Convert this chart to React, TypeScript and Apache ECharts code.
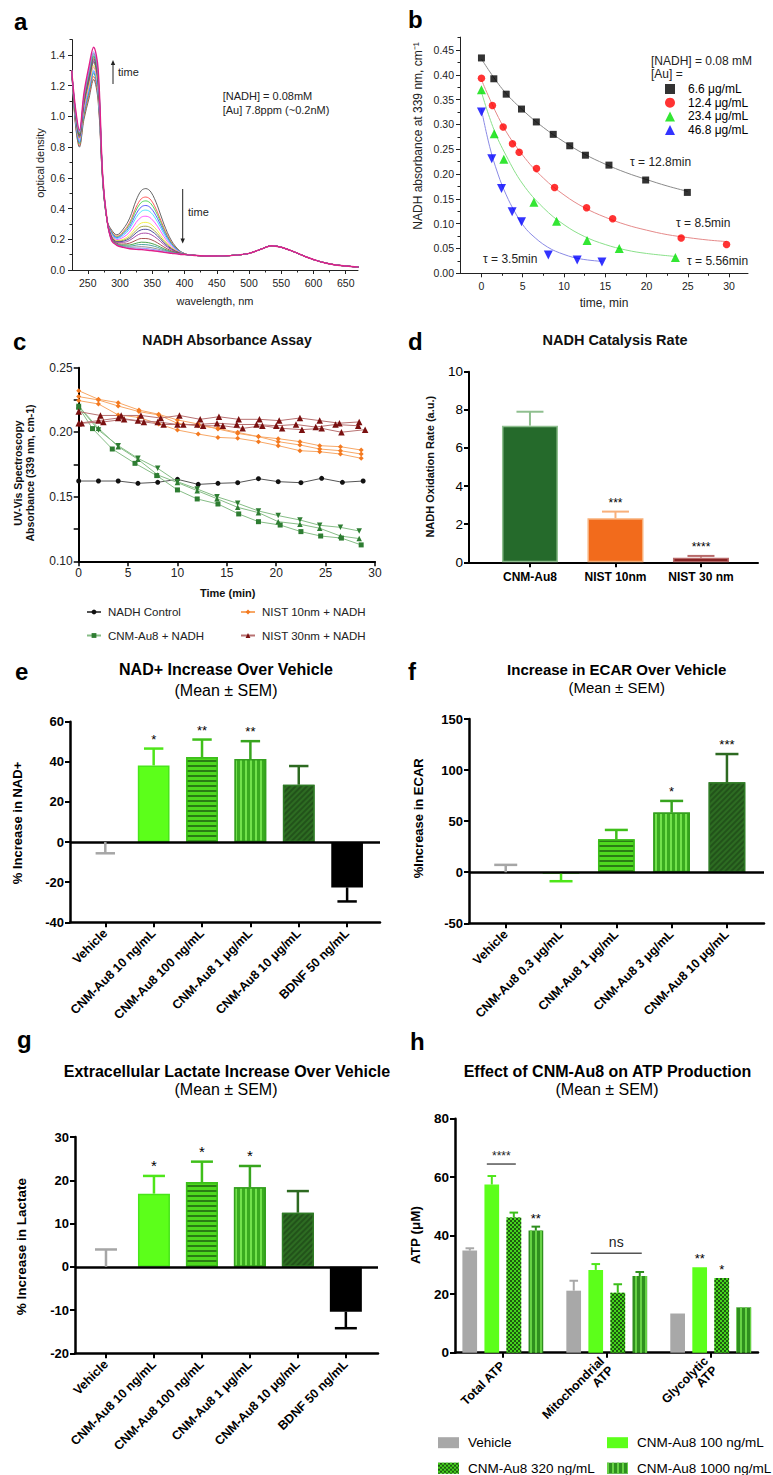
import React, { useEffect, useRef } from 'react';
import * as echarts from 'echarts';

const FONT = '"Liberation Sans", Arial, Helvetica, sans-serif';

// ---------------- Panel a : UV-Vis spectra ----------------
const aWaveFront = [225, 231, 237, 244, 252, 259, 266, 273, 280, 287];
const aWaveMid = [295, 305, 315, 325, 333, 340, 348, 358, 368, 380, 392, 402];
const aWaveTail = [410, 420, 440, 460, 480, 500, 520, 535, 550, 570, 590, 610, 630, 650, 670];
const aTail = [0.097, 0.094, 0.091, 0.092, 0.097, 0.108, 0.138, 0.158, 0.148, 0.118, 0.083, 0.055, 0.036, 0.026, 0.019];
const aFront = [
  [1.30, 0.94, 0.80, 0.98, 1.12, 1.24, 1.10, 0.58, 0.32, 0.26],
  [1.30, 0.95, 0.81, 1.00, 1.14, 1.26, 1.12, 0.58, 0.32, 0.25],
  [1.30, 0.96, 0.82, 1.01, 1.16, 1.28, 1.14, 0.59, 0.32, 0.245],
  [1.30, 0.97, 0.83, 1.03, 1.17, 1.29, 1.15, 0.59, 0.32, 0.24],
  [1.30, 0.98, 0.84, 1.04, 1.18, 1.30, 1.16, 0.59, 0.32, 0.235],
  [1.30, 0.99, 0.85, 1.05, 1.20, 1.32, 1.18, 0.60, 0.32, 0.228],
  [1.30, 1.00, 0.86, 1.07, 1.21, 1.33, 1.19, 0.60, 0.32, 0.221],
  [1.30, 1.00, 0.86, 1.07, 1.23, 1.35, 1.21, 0.60, 0.32, 0.217],
  [1.30, 1.01, 0.87, 1.09, 1.24, 1.36, 1.22, 0.60, 0.32, 0.214],
  [1.30, 1.01, 0.87, 1.09, 1.25, 1.37, 1.23, 0.61, 0.32, 0.21],
  [1.30, 1.02, 0.88, 1.10, 1.26, 1.38, 1.24, 0.61, 0.32, 0.204],
  [1.30, 1.02, 0.88, 1.11, 1.27, 1.39, 1.25, 0.61, 0.32, 0.199],
  [1.30, 1.03, 0.89, 1.12, 1.28, 1.40, 1.26, 0.61, 0.32, 0.197],
  [1.30, 1.03, 0.89, 1.12, 1.29, 1.41, 1.27, 0.61, 0.32, 0.194],
  [1.30, 1.04, 0.90, 1.13, 1.30, 1.42, 1.28, 0.62, 0.32, 0.193],
  [1.30, 1.05, 0.91, 1.15, 1.33, 1.45, 1.31, 0.62, 0.32, 0.191],
];
const aMid = [
  [0.229, 0.267, 0.338, 0.454, 0.517, 0.53, 0.507, 0.418, 0.299, 0.189, 0.127, 0.104],
  [0.22, 0.25, 0.31, 0.41, 0.464, 0.475, 0.455, 0.377, 0.274, 0.178, 0.124, 0.1035],
  [0.215, 0.243, 0.298, 0.39, 0.44, 0.45, 0.431, 0.359, 0.263, 0.173, 0.123, 0.103],
  [0.21, 0.234, 0.283, 0.366, 0.411, 0.42, 0.402, 0.336, 0.249, 0.167, 0.121, 0.103],
  [0.205, 0.225, 0.268, 0.342, 0.382, 0.39, 0.374, 0.314, 0.235, 0.161, 0.119, 0.103],
  [0.198, 0.213, 0.248, 0.31, 0.344, 0.35, 0.336, 0.285, 0.217, 0.153, 0.117, 0.102],
  [0.191, 0.2, 0.228, 0.278, 0.306, 0.31, 0.298, 0.255, 0.198, 0.145, 0.114, 0.102],
  [0.187, 0.193, 0.215, 0.258, 0.282, 0.285, 0.274, 0.236, 0.187, 0.14, 0.113, 0.102],
  [0.184, 0.187, 0.205, 0.242, 0.262, 0.265, 0.255, 0.222, 0.177, 0.136, 0.111, 0.101],
  [0.18, 0.18, 0.193, 0.222, 0.238, 0.24, 0.231, 0.203, 0.166, 0.131, 0.11, 0.101],
  [0.174, 0.169, 0.175, 0.194, 0.205, 0.205, 0.198, 0.177, 0.15, 0.124, 0.108, 0.101],
  [0.169, 0.162, 0.163, 0.174, 0.181, 0.18, 0.174, 0.159, 0.138, 0.119, 0.106, 0.1],
  [0.167, 0.157, 0.155, 0.162, 0.166, 0.165, 0.16, 0.148, 0.131, 0.116, 0.105, 0.1],
  [0.164, 0.153, 0.148, 0.15, 0.152, 0.15, 0.146, 0.137, 0.125, 0.113, 0.105, 0.1],
  [0.163, 0.15, 0.143, 0.142, 0.142, 0.14, 0.136, 0.129, 0.12, 0.111, 0.104, 0.1],
  [0.161, 0.147, 0.138, 0.134, 0.133, 0.13, 0.127, 0.122, 0.115, 0.109, 0.103, 0.1],
];
const aColors = ['#555555', '#ff4a4a', '#3fd24a', '#4a4aff', '#3ee0ff', '#ff45ff', '#f2f03a', '#9c9c3a', '#3a3a90', '#a03aa0', '#a04040', '#3a9a3a', '#3a9a9a', '#8a8a8a', '#8a8aff', '#e0208a'];
const aXTicks = [250, 300, 350, 400, 450, 500, 550, 600, 650];
const aXMinor = [275, 325, 375, 425, 475, 525, 575, 625];
const aYTicks = [0, 0.2, 0.4, 0.6, 0.8, 1.0, 1.2, 1.4];
const aYMinor = [0.1, 0.3, 0.5, 0.7, 0.9, 1.1, 1.3, 1.5];

// ---------------- Panel b : NADH decay ----------------
const bNames = ['6.6 μg/mL', '12.4 μg/mL', '23.4 μg/mL', '46.8 μg/mL'];
const bX = [
  [0, 1.5, 3, 4.85, 6.65, 8.7, 10.7, 12.6, 15.45, 19.9, 24.95],
  [0, 1.33, 2.63, 3.76, 4.57, 6.67, 8.86, 12.74, 15.9, 24.2, 29.7],
  [0, 1.54, 2.71, 6.35, 9.1, 12.8, 16.7, 23.5],
  [0, 1.25, 2.43, 3.72, 4.85, 8.1, 11.6, 14.6],
];
const bY = [
  [0.434, 0.392, 0.361, 0.331, 0.305, 0.28, 0.257, 0.238, 0.218, 0.188, 0.163],
  [0.393, 0.338, 0.295, 0.261, 0.244, 0.211, 0.173, 0.132, 0.11, 0.071, 0.058],
  [0.37, 0.281, 0.23, 0.143, 0.105, 0.066, 0.05, 0.032],
  [0.325, 0.231, 0.171, 0.124, 0.104, 0.037, 0.027, 0.023],
];
const bFitX = [
  [0, 2.5, 5, 7.5, 10, 12.5, 15, 17.5, 20, 22.5, 25],
  [0, 2.5, 5, 7.5, 10, 12.5, 15, 17.5, 20, 22.5, 25, 27.5, 29.7],
  [0, 1.5, 3, 5, 7.5, 10, 12.5, 15, 17.5, 20, 23.5],
  [0, 1, 2, 3, 4, 5, 6, 8, 10, 12, 14.6],
];
const bFitY = [
  [0.432, 0.372, 0.329, 0.294, 0.265, 0.24, 0.22, 0.203, 0.189, 0.176, 0.165],
  [0.39, 0.3, 0.238, 0.192, 0.158, 0.132, 0.113, 0.098, 0.087, 0.078, 0.072, 0.067, 0.064],
  [0.365, 0.29, 0.237, 0.18, 0.132, 0.098, 0.074, 0.058, 0.047, 0.04, 0.034],
  [0.33, 0.255, 0.2, 0.158, 0.125, 0.098, 0.079, 0.053, 0.038, 0.029, 0.024],
];
const bTau = ['τ = 12.8min', 'τ = 8.5min', 'τ = 5.56min', 'τ = 3.5min'];
const bXTicks = [0, 5, 10, 15, 20, 25, 30];
const bXMinor = [2.5, 7.5, 12.5, 17.5, 22.5, 27.5];
const bYTicks = [0, 0.05, 0.1, 0.15, 0.2, 0.25, 0.3, 0.35, 0.4, 0.45];
const bYMinor = [0.025, 0.075, 0.125, 0.175, 0.225, 0.275, 0.325, 0.375, 0.425, 0.475];

// ---------------- Panel c : NADH absorbance assay ----------------
const cCtrlT = [0, 2, 4, 6, 8, 10, 12.1, 14.1, 16.1, 18.2, 20.2, 22.5, 24.6, 26.7, 28.8];
const cCtrlV = [0.1622, 0.1622, 0.1622, 0.1604, 0.1612, 0.1635, 0.1596, 0.1604, 0.1609, 0.164, 0.1617, 0.1609, 0.1643, 0.1612, 0.1622];
const cCnmT = [
  [0, 1.4, 3.4, 5.7, 7.9, 10, 12, 14.1, 16.2, 18.2, 20.4, 22.5, 24.5, 26.6, 28.6],
  [0, 2, 4, 6, 8, 10, 12, 14, 16.1, 18.2, 20.2, 22.4, 24.4, 26.5, 28.4],
  [0, 2, 4, 6, 8, 10, 12, 14, 16.1, 18.2, 20.2, 22.4, 24.4, 26.5, 28.4],
];
const cCnmV = [
  [0.2193, 0.2028, 0.187, 0.1759, 0.1664, 0.1553, 0.1483, 0.1444, 0.1367, 0.1307, 0.1281, 0.123, 0.1196, 0.118, 0.1127],
  [0.2203, 0.203, 0.1888, 0.179, 0.1669, 0.161, 0.1547, 0.1485, 0.1418, 0.1377, 0.1307, 0.1287, 0.1256, 0.1196, 0.1176],
  [0.22, 0.2017, 0.1896, 0.1798, 0.172, 0.1617, 0.156, 0.15, 0.1449, 0.139, 0.1354, 0.132, 0.1279, 0.1263, 0.1235],
];
const cN10T = [0, 2, 4, 6.1, 8.1, 10, 12.1, 14.1, 16.1, 18.2, 20.2, 22.4, 24.4, 26.5, 28.6];
const cN10V = [
  [0.2322, 0.2255, 0.2229, 0.2172, 0.2139, 0.2095, 0.2064, 0.2025, 0.1991, 0.1966, 0.195, 0.1927, 0.1896, 0.1888, 0.1862],
  [0.2276, 0.225, 0.2203, 0.216, 0.2134, 0.2069, 0.2051, 0.203, 0.1999, 0.1966, 0.1927, 0.1901, 0.187, 0.1857, 0.1831],
  [0.2245, 0.2219, 0.2134, 0.2115, 0.2064, 0.2017, 0.1986, 0.196, 0.1953, 0.1927, 0.1896, 0.1857, 0.1849, 0.1831, 0.1798],
];
const cN30T = [
  [0, 2.2, 4.3, 6.3, 8.3, 10.2, 12.3, 14.2, 16.2, 18.3, 20.3, 22.4, 24.4, 26.4, 28.4],
  [0, 2, 4, 6, 8, 10, 12, 14, 16, 18, 20, 22, 24, 26, 28.3],
  [0.3, 2.5, 4.6, 6.6, 8.6, 10.6, 12.6, 14.6, 16.6, 18.6, 20.6, 22.6, 24.6, 26.6, 29],
];
const cN30V = [
  [0.216, 0.213, 0.213, 0.213, 0.211, 0.213, 0.21, 0.212, 0.21, 0.21, 0.209, 0.211, 0.209, 0.207, 0.208],
  [0.207, 0.209, 0.211, 0.209, 0.208, 0.206, 0.206, 0.207, 0.206, 0.206, 0.205, 0.206, 0.204, 0.206, 0.205],
  [0.207, 0.208, 0.21, 0.208, 0.206, 0.206, 0.205, 0.205, 0.203, 0.205, 0.203, 0.202, 0.203, 0.2, 0.202],
];

// ---------------- Panel d : catalysis rate ----------------
const dCats = ['CNM-Au8', 'NIST 10nm', 'NIST 30 nm'];
const dMeans = [7.17, 2.31, 0.245];
const dErr = [0.73, 0.35, 0.09];
const dStars = ['', '***', '****'];

// ---------------- Panel e : NAD+ ----------------
const eCats = ['Vehicle', 'CNM-Au8 10 ng/mL', 'CNM-Au8 100 ng/mL', 'CNM-Au8 1 μg/mL', 'CNM-Au8 10 μg/mL', 'BDNF 50 ng/mL'];
const eMeans = [0, 38.2, 42.4, 41.4, 28.6, -22.6];
const eErr = [-5.6, 8.4, 8.7, 8.9, 9.3, -7.0];
const eStars = ['', '*', '**', '**', '', ''];

// ---------------- Panel f : ECAR ----------------
const fCats = ['Vehicle', 'CNM-Au8 0.3 μg/mL', 'CNM-Au8 1 μg/mL', 'CNM-Au8 3 μg/mL', 'CNM-Au8 10 μg/mL'];
const fMeans = [0, -1.5, 32.3, 58.4, 88];
const fErr = [7.2, -7.3, 9.1, 11.4, 27.7];
const fStars = ['', '', '', '*', '***'];

// ---------------- Panel g : lactate ----------------
const gCats = ['Vehicle', 'CNM-Au8 10 ng/mL', 'CNM-Au8 100 ng/mL', 'CNM-Au8 1 μg/mL', 'CNM-Au8 10 μg/mL', 'BDNF 50 ng/mL'];
const gMeans = [0, 16.9, 19.6, 18.4, 12.5, -10.4];
const gErr = [4.0, 4.1, 4.7, 4.9, 5.0, -3.8];
const gStars = ['', '*', '*', '*', '', ''];

// ---------------- Panel h : ATP ----------------
const hCats = ['Total ATP', 'Mitochondrial\nATP', 'Glycolytic\nATP'];
const hNames = ['Vehicle', 'CNM-Au8 100 ng/mL', 'CNM-Au8 320 ng/mL', 'CNM-Au8 1000 ng/mL'];
const hMeans = [
  [34.9, 21.2, 13.4],
  [57.5, 28.3, 29.2],
  [46.2, 20.5, 25.5],
  [41.8, 26.2, 15.5],
];
const hErr = [
  [0.8, 3.4, 0],
  [2.9, 2.0, 0],
  [1.7, 2.9, 0.1],
  [1.3, 1.4, 0],
];
const hStars = [
  ['', '', ''],
  ['', '', '**'],
  ['', '', '*'],
  ['**', '', ''],
];
const hBrackets = [
  { group: 0, from: 1, to: 2, level: 64.5, label: '****' },
  { group: 1, from: 1, to: 3, level: 34, label: 'ns' },
];

// ---------------- helpers ----------------
const txt = (text: string, x: number, y: number, size: number, opts: any = {}) => {
  const align = opts.align || 'center';
  const valign = opts.valign || 'middle';
  return {
    type: 'text',
    x,
    y,
    rotation: opts.rot || 0,
    silent: true,
    z: 100,
    style: {
      text,
      fill: opts.color || '#000',
      font: `${opts.weight || 'normal'} ${size}px ${FONT}`,
      textAlign: align,
      align,
      textVerticalAlign: valign,
      verticalAlign: valign,
      lineHeight: opts.lineHeight,
    },
  };
};

const decalH = (color: string) => ({ symbol: 'rect', symbolSize: 1, color, dashArrayX: [1, 0], dashArrayY: [2, 2.2], rotation: 0 });
const decalV = (color: string) => ({ symbol: 'rect', symbolSize: 1, color, dashArrayX: [2, 2.2], dashArrayY: [4, 0], rotation: 0 });
const decalD = (color: string) => ({ symbol: 'rect', symbolSize: 1, color, dashArrayX: [1, 0], dashArrayY: [1.3, 1.7], rotation: -Math.PI / 4 });
const decalC = (color: string) => ({ symbol: 'rect', symbolSize: 1, color, dashArrayX: [[1.5, 1.5], [0, 1.5, 1.5, 0]], dashArrayY: [1.5, 0], rotation: 0 });

function errSeries(xi: number, yi: number, means: number[], errs: number[], colors: string[], stars: string[] | null, capHalf: number, lw: number, offsetPx = 0, starSize = 13, starGap = 3) {
  return {
    type: 'custom',
    xAxisIndex: xi,
    yAxisIndex: yi,
    z: 5,
    silent: true,
    data: means.map((m, i) => [i, m, errs[i]]),
    encode: { x: 0, y: 1 },
    renderItem: (params: any, api: any) => {
      const i = params.dataIndex;
      const x = api.value(0);
      const y = api.value(1);
      const e = api.value(2);
      const b = api.coord([x, y]);
      const t = api.coord([x, y + e]);
      const px = b[0] + offsetPx;
      const children: any[] = [];
      if (Math.abs(t[1] - b[1]) > 0.5) {
        children.push({ type: 'line', shape: { x1: px, y1: b[1], x2: px, y2: t[1] }, style: { stroke: colors[i], lineWidth: lw } });
        children.push({ type: 'line', shape: { x1: px - capHalf, y1: t[1], x2: px + capHalf, y2: t[1] }, style: { stroke: colors[i], lineWidth: lw } });
      }
      if (stars && stars[i]) {
        const top = Math.min(t[1], b[1]);
        children.push({
          type: 'text',
          x: px,
          y: top - starGap,
          style: { text: stars[i], fill: '#000', font: `${starSize}px ${FONT}`, textAlign: 'center', align: 'center', textVerticalAlign: 'bottom', verticalAlign: 'bottom' },
        });
      }
      return { type: 'group', children };
    },
  };
}

const zeroLine = {
  silent: true,
  symbol: ['none', 'none'],
  label: { show: false },
  lineStyle: { color: '#000', width: 2.5, type: 'solid' },
  data: [{ yAxis: 0 }],
};

function barXAxis(gi: number, min: number, max: number, cats: string[], rotate: number, fontSize: number, margin: number) {
  const vals = cats.map((_, i) => i);
  return {
    type: 'value',
    gridIndex: gi,
    min,
    max,
    position: 'bottom',
    axisLine: { show: true, onZero: false, lineStyle: { color: '#000', width: 2.5 } },
    axisTick: { show: true, customValues: vals, length: 5, lineStyle: { color: '#000', width: 2 } },
    axisLabel: {
      customValues: vals,
      formatter: (v: number) => cats[Math.round(v)] ?? '',
      rotate,
      fontSize,
      fontWeight: 'bold',
      color: '#000',
      margin,
      fontFamily: FONT,
    },
    splitLine: { show: false },
  };
}

function barYAxis(gi: number, min: number, max: number, interval: number, fontSize: number, weight: string) {
  return {
    type: 'value',
    gridIndex: gi,
    min,
    max,
    interval,
    position: 'left',
    axisLine: { show: true, onZero: false, lineStyle: { color: '#000', width: 2.5 } },
    axisTick: { show: true, length: 5, lineStyle: { color: '#000', width: 2 } },
    axisLabel: { fontSize, fontWeight: weight, color: '#000', margin: 6, fontFamily: FONT },
    splitLine: { show: false },
  };
}

function buildOption() {
  const grid = [
    { left: 72, top: 39.6, width: 286, height: 230.4 },
    { left: 460, top: 37.1, width: 288, height: 236.2 },
    { left: 78.7, top: 367.7, width: 296.3, height: 193.6 },
    { left: 469, top: 371.7, width: 289, height: 190.6 },
    { left: 70, top: 721.7, width: 310, height: 200.6 },
    { left: 469, top: 719, width: 295, height: 204.3 },
    { left: 75, top: 1137, width: 303, height: 216.3 },
    { left: 455, top: 1118.7, width: 303, height: 234 },
  ];

  const thinLine = { color: '#222', width: 1 };
  const xAxis: any[] = [
    {
      type: 'value', gridIndex: 0, min: 225.5, max: 669, position: 'bottom',
      axisLine: { onZero: false, lineStyle: thinLine },
      axisTick: { customValues: aXTicks, length: 4, lineStyle: thinLine },
      axisLabel: { customValues: aXTicks, fontSize: 10.5, color: '#222', margin: 7 },
      splitLine: { show: false },
    },
    {
      type: 'value', gridIndex: 0, min: 225.5, max: 669, position: 'bottom',
      axisLine: { show: false, onZero: false },
      axisTick: { customValues: aXMinor, length: 2.5, lineStyle: thinLine },
      axisLabel: { show: false }, splitLine: { show: false },
    },
    {
      type: 'value', gridIndex: 1, min: -2.6, max: 32.3, position: 'bottom',
      axisLine: { onZero: false, lineStyle: thinLine },
      axisTick: { customValues: bXTicks, length: 4, lineStyle: thinLine },
      axisLabel: { customValues: bXTicks, fontSize: 10.5, color: '#222', margin: 7 },
      splitLine: { show: false },
    },
    {
      type: 'value', gridIndex: 1, min: -2.6, max: 32.3, position: 'bottom',
      axisLine: { show: false, onZero: false },
      axisTick: { customValues: bXMinor, length: 2.5, lineStyle: thinLine },
      axisLabel: { show: false }, splitLine: { show: false },
    },
    {
      type: 'value', gridIndex: 2, min: 0, max: 30, interval: 5, position: 'bottom',
      axisLine: { onZero: false, lineStyle: { color: '#000', width: 2 } },
      axisTick: { length: 5, lineStyle: { color: '#000', width: 1.5 } },
      axisLabel: { fontSize: 12, color: '#222', margin: 6 },
      splitLine: { show: false },
    },
    barXAxis(3, -0.713, 2.667, dCats, 0, 12, 9),
    barXAxis(4, -0.73, 5.68, eCats, 45, 12.5, 9),
    barXAxis(5, -0.664, 4.67, fCats, 45, 12.5, 9),
    barXAxis(6, -0.646, 5.67, gCats, 45, 12.5, 9),
    barXAxis(7, -0.46, 2.455, hCats, 45, 12.5, 11),
  ];
  xAxis[5].axisLine.lineStyle.width = 2;

  const yAxis: any[] = [
    {
      type: 'value', gridIndex: 0, min: 0, max: 1.5, position: 'left',
      axisLine: { onZero: false, lineStyle: thinLine },
      axisTick: { customValues: aYTicks, length: 4, lineStyle: thinLine },
      axisLabel: { customValues: aYTicks, formatter: (v: number) => v.toFixed(1), fontSize: 10.5, color: '#222', margin: 7 },
      splitLine: { show: false },
    },
    {
      type: 'value', gridIndex: 0, min: 0, max: 1.5, position: 'left',
      axisLine: { show: false, onZero: false },
      axisTick: { customValues: aYMinor, length: 2.5, lineStyle: thinLine },
      axisLabel: { show: false }, splitLine: { show: false },
    },
    {
      type: 'value', gridIndex: 1, min: 0, max: 0.476, position: 'left',
      axisLine: { onZero: false, lineStyle: thinLine },
      axisTick: { customValues: bYTicks, length: 4, lineStyle: thinLine },
      axisLabel: { customValues: bYTicks, formatter: (v: number) => v.toFixed(2), fontSize: 10.5, color: '#222', margin: 6 },
      splitLine: { show: false },
    },
    {
      type: 'value', gridIndex: 1, min: 0, max: 0.476, position: 'left',
      axisLine: { show: false, onZero: false },
      axisTick: { customValues: bYMinor, length: 2.5, lineStyle: thinLine },
      axisLabel: { show: false }, splitLine: { show: false },
    },
    {
      type: 'value', gridIndex: 2, min: 0.1, max: 0.25, interval: 0.05, position: 'left',
      axisLine: { onZero: false, lineStyle: { color: '#000', width: 2 } },
      axisTick: { length: 5, lineStyle: { color: '#000', width: 1.5 } },
      minorTick: { show: true, splitNumber: 2, length: 5, lineStyle: { color: '#000', width: 1.5 } },
      axisLabel: { formatter: (v: number) => v.toFixed(2), fontSize: 12, color: '#222', margin: 6 },
      splitLine: { show: false },
    },
    barYAxis(3, 0, 10, 2, 13.5, 'normal'),
    barYAxis(4, -40, 60, 20, 13, 'bold'),
    barYAxis(5, -50, 150, 50, 13, 'bold'),
    barYAxis(6, -20, 30, 10, 13, 'bold'),
    barYAxis(7, 0, 80, 20, 13.5, 'bold'),
  ];
  yAxis[5].axisLine.lineStyle.width = 2;

  const series: any[] = [];

  // ---- a
  aFront.forEach((front, k) => {
    const data = [
      ...aWaveFront.map((w, i) => [w, front[i]]),
      ...aWaveMid.map((w, i) => [w, aMid[k][i]]),
      ...aWaveTail.map((w, i) => [w, aTail[i]]),
    ];
    series.push({
      type: 'line', name: 'spectrum ' + k, xAxisIndex: 0, yAxisIndex: 0, data, smooth: 0.35,
      symbol: 'none', silent: true, z: 2,
      lineStyle: { color: aColors[k], width: k === aFront.length - 1 ? 1.4 : 0.9 },
    });
  });

  // ---- b
  const bColors = ['#000000', '#ff0000', '#00e000', '#0000ff'];
  const bFitColors = ['#8a8a8a', '#e58a8a', '#8ae08a', '#8a8ae5'];
  const bSymbols = ['rect', 'circle', 'triangle', 'triangle'];
  const bSizes = [7, 7.5, 9, 9];
  const bRot = [0, 0, 0, 180];
  bFitX.forEach((xs, k) => {
    series.push({
      type: 'line', name: 'fit ' + k, xAxisIndex: 2, yAxisIndex: 2, smooth: 0.4, symbol: 'none', silent: true, z: 2,
      data: xs.map((x, i) => [x, bFitY[k][i]]),
      lineStyle: { color: bFitColors[k], width: 1 },
    });
  });
  bX.forEach((xs, k) => {
    series.push({
      type: 'scatter', name: bNames[k], xAxisIndex: 2, yAxisIndex: 2, z: 3,
      symbol: bSymbols[k], symbolSize: bSizes[k], symbolRotate: bRot[k],
      itemStyle: { color: bColors[k] },
      data: xs.map((x, i) => [x, bY[k][i]]),
    });
  });

  // ---- c
  const cLine = (name: string, ts: number[], vs: number[], symbol: string, size: number, color: string, lineColor: string, rot = 0) => ({
    type: 'line', name, xAxisIndex: 4, yAxisIndex: 4, z: 3,
    symbol, symbolSize: size, symbolRotate: rot, showSymbol: true,
    itemStyle: { color },
    lineStyle: { color: lineColor, width: 1 },
    data: ts.map((t, i) => [t, vs[i]]),
  });
  series.push(cLine('NADH Control', cCtrlT, cCtrlV, 'circle', 5, '#111111', '#555555'));
  const cnmSym = ['rect', 'triangle', 'triangle'];
  const cnmRot = [0, 0, 180];
  cCnmT.forEach((ts, k) => series.push(cLine('CNM-Au8 + NADH', ts, cCnmV[k], cnmSym[k], k === 0 ? 5 : 5.5, '#2e7d32', '#86bd86', cnmRot[k])));
  cN10V.forEach((vs) => series.push(cLine('NIST 10nm + NADH', cN10T, vs, 'diamond', 5, '#f47a20', '#f7a766')));
  cN30T.forEach((ts, k) => series.push(cLine('NIST 30nm + NADH', ts, cN30V[k], 'triangle', 6.5, '#7a1010', '#b87272')));

  // ---- d
  const dFill = ['#256a2b', '#f26b1c', '#7a0e0e'];
  const dBorder = ['#8fbf8f', '#f8b07a', '#b86a6a'];
  series.push({
    type: 'bar', name: 'd', xAxisIndex: 5, yAxisIndex: 5, barWidth: 56, z: 2,
    data: dMeans.map((v, i) => ({ value: [i, v], itemStyle: { color: dFill[i], borderColor: dBorder[i], borderWidth: 1.5 } })),
  });
  series.push(errSeries(5, 5, dMeans, dErr, dBorder, dStars, 13.5, 2, 0, 12, 3));

  // ---- e / f / g styles
  const grpStyles = [
    { color: '#a6a6a6', borderWidth: 0 },
    { color: '#5cff1a', borderColor: '#48e61a', borderWidth: 1.5 },
    { color: '#4fd81f', borderColor: '#3cbf1a', borderWidth: 1.5, decal: decalH('#2a7c14') },
    { color: '#3aab20', borderColor: '#34a01e', borderWidth: 1.5, decal: decalV('#72e24c') },
    { color: '#2d6c22', borderColor: '#2f7a25', borderWidth: 1.5, decal: decalD('#22531a') },
    { color: '#000000', borderWidth: 0 },
  ];
  const grpErr = ['#a6a6a6', '#4ee619', '#3fbf1a', '#37a41e', '#2d6a21', '#000000'];

  series.push({
    type: 'bar', name: 'e', xAxisIndex: 6, yAxisIndex: 6, barWidth: 31.7, z: 2,
    data: eMeans.map((v, i) => ({ value: [i, v], itemStyle: grpStyles[i] })),
    markLine: zeroLine,
  });
  series.push(errSeries(6, 6, eMeans, eErr, grpErr, eStars, 9.7, 2.5, 0, 13, 3));

  const fStyles = [grpStyles[0], grpStyles[1], grpStyles[2], grpStyles[3], grpStyles[4]];
  const fErrC = [grpErr[0], grpErr[1], grpErr[2], grpErr[3], grpErr[4]];
  series.push({
    type: 'bar', name: 'f', xAxisIndex: 7, yAxisIndex: 7, barWidth: 36.7, z: 2,
    data: fMeans.map((v, i) => ({ value: [i, v], itemStyle: fStyles[i] })),
    markLine: zeroLine,
  });
  series.push(errSeries(7, 7, fMeans, fErr, fErrC, fStars, 11.5, 2.5, 0, 13, 3));

  series.push({
    type: 'bar', name: 'g', xAxisIndex: 8, yAxisIndex: 8, barWidth: 32, z: 2,
    data: gMeans.map((v, i) => ({ value: [i, v], itemStyle: grpStyles[i] })),
    markLine: zeroLine,
  });
  series.push(errSeries(8, 8, gMeans, gErr, grpErr, gStars, 11, 2.5, 0, 15, 3));

  // ---- h
  const hStyles = [
    { color: '#a8a8a8' },
    { color: '#5cff1a' },
    { color: '#45d41c', decal: decalC('#1d5a10') },
    { color: '#2f8f1e', decal: decalV('#66d244') },
  ];
  const hErrC = ['#a8a8a8', '#4ee619', '#3cbf1a', '#2f8f1e'];
  const BAR_STEP = 22;
  hNames.forEach((name, s) => {
    series.push({
      type: 'bar', name, xAxisIndex: 9, yAxisIndex: 9, barWidth: 14.7, barGap: '50%', z: 2,
      itemStyle: hStyles[s],
      data: hMeans[s].map((v, i) => [i, v]),
    });
  });
  hNames.forEach((_, s) => {
    series.push(errSeries(9, 9, hMeans[s], hErr[s], [hErrC[s], hErrC[s], hErrC[s]], hStars[s], 4.3, 2, (s - 1.5) * BAR_STEP, 13, 2));
  });
  series.push({
    type: 'custom', xAxisIndex: 9, yAxisIndex: 9, z: 6, silent: true,
    data: hBrackets.map((b) => [b.group, b.level]),
    encode: { x: 0, y: 1 },
    renderItem: (params: any, api: any) => {
      const b = hBrackets[params.dataIndex];
      const c = api.coord([api.value(0), api.value(1)]);
      const x1 = c[0] + (b.from - 1.5) * BAR_STEP - 5;
      const x2 = c[0] + (b.to - 1.5) * BAR_STEP + 2;
      const isStar = b.label.indexOf('*') >= 0;
      return {
        type: 'group',
        children: [
          { type: 'line', shape: { x1, y1: c[1], x2, y2: c[1] }, style: { stroke: '#555', lineWidth: 1.5 } },
          {
            type: 'text', x: (x1 + x2) / 2, y: c[1] - (isStar ? 2 : 4),
            style: { text: b.label, fill: '#222', font: `${isStar ? 12 : 14}px ${FONT}`, textAlign: 'center', align: 'center', textVerticalAlign: 'bottom', verticalAlign: 'bottom' },
          },
        ],
      };
    },
  });

  // ---- legends
  const legend: any[] = [
    {
      orient: 'vertical', left: 665, top: 83, height: 80, padding: 0, itemGap: 1.7, itemWidth: 10, itemHeight: 10,
      selectedMode: false, data: bNames,
      textStyle: { fontSize: 12, color: '#000', fontFamily: FONT, padding: [0, 0, 0, 8] },
    },
    {
      orient: 'vertical', left: 86, top: 606, height: 60, padding: 0, itemGap: 11.5, itemWidth: 14, itemHeight: 6,
      selectedMode: false, data: ['NADH Control', 'CNM-Au8 + NADH'],
      textStyle: { fontSize: 11.5, color: '#222', fontFamily: FONT, padding: [0, 0, 0, 2] },
    },
    {
      orient: 'vertical', left: 240, top: 606, height: 60, padding: 0, itemGap: 11.5, itemWidth: 14, itemHeight: 6,
      selectedMode: false, data: ['NIST 10nm + NADH', 'NIST 30nm + NADH'],
      textStyle: { fontSize: 11.5, color: '#222', fontFamily: FONT, padding: [0, 0, 0, 2] },
    },
    {
      orient: 'vertical', left: 438, top: 1435.7, height: 80, padding: 0, itemGap: 11.5, itemWidth: 21, itemHeight: 11, icon: 'rect',
      selectedMode: false, data: [hNames[0], hNames[2]],
      textStyle: { fontSize: 13.5, color: '#000', fontFamily: FONT, padding: [0, 0, 0, 4] },
    },
    {
      orient: 'vertical', left: 607, top: 1435.7, height: 80, padding: 0, itemGap: 11.5, itemWidth: 21, itemHeight: 11, icon: 'rect',
      selectedMode: false, data: [hNames[1], hNames[3]],
      textStyle: { fontSize: 13.5, color: '#000', fontFamily: FONT, padding: [0, 0, 0, 4] },
    },
  ];

  // ---- texts & annotations
  const L = 24;
  const graphic: any[] = [
    txt('a', 14, 21.7, L, { weight: 'bold', align: 'left' }),
    txt('b', 408, 19.7, L, { weight: 'bold', align: 'left' }),
    txt('c', 13, 341.7, L, { weight: 'bold', align: 'left' }),
    txt('d', 408, 341.7, L, { weight: 'bold', align: 'left' }),
    txt('e', 15, 671.7, L, { weight: 'bold', align: 'left' }),
    txt('f', 408, 671.7, L, { weight: 'bold', align: 'left' }),
    txt('g', 17, 1039, L, { weight: 'bold', align: 'left' }),
    txt('h', 410, 1041, L, { weight: 'bold', align: 'left' }),

    // a
    txt('optical density', 40, 163, 11, { rot: Math.PI / 2, color: '#222' }),
    txt('wavelength, nm', 215, 301, 11, { color: '#222' }),
    txt('time', 118, 72, 11, { align: 'left', color: '#222' }),
    txt('time', 188, 212, 11, { align: 'left', color: '#222' }),
    txt('[NADH] = 0.08mM', 222.7, 95.7, 11, { align: 'left', color: '#222' }),
    txt('[Au] 7.8ppm (~0.2nM)', 222.7, 110, 11, { align: 'left', color: '#222' }),
    { type: 'line', silent: true, shape: { x1: 113, y1: 84, x2: 113, y2: 63 }, style: { stroke: '#222', lineWidth: 1 } },
    { type: 'polygon', silent: true, shape: { points: [[110.8, 65], [115.2, 65], [113, 60]] }, style: { fill: '#222' } },
    { type: 'line', silent: true, shape: { x1: 182.7, y1: 189, x2: 182.7, y2: 240 }, style: { stroke: '#222', lineWidth: 1 } },
    { type: 'polygon', silent: true, shape: { points: [[180.5, 238.5], [184.9, 238.5], [182.7, 243.5]] }, style: { fill: '#222' } },

    // b
    txt('NADH absorbance at 339 nm, cm⁻¹', 418, 136, 12, { rot: Math.PI / 2, color: '#222' }),
    txt('time, min', 604, 303, 12, { color: '#222' }),
    txt('[NADH] = 0.08 mM', 651, 61, 12, { align: 'left', color: '#222' }),
    txt('[Au] =', 651, 74, 12, { align: 'left', color: '#222' }),
    txt(bTau[0], 630, 162, 12, { align: 'left', color: '#222' }),
    txt(bTau[1], 676, 223, 12, { align: 'left', color: '#222' }),
    txt(bTau[2], 687, 261, 12, { align: 'left', color: '#222' }),
    txt(bTau[3], 483, 259, 12, { align: 'left', color: '#222' }),

    // c
    txt('NADH Absorbance Assay', 227, 340, 14, { weight: 'bold', color: '#111' }),
    txt('Time (min)', 227.7, 593, 11, { weight: 'bold', color: '#111' }),
    txt('UV-Vis Spectroscopy\nAbsorbance (339 nm, cm-1)', 24, 473, 10.5, { weight: 'bold', rot: Math.PI / 2, color: '#111', lineHeight: 12 }),

    // d
    txt('NADH Catalysis Rate', 615, 340, 14.5, { weight: 'bold', color: '#111' }),
    txt('NADH Oxidation Rate (a.u.)', 430, 466.7, 11, { weight: 'bold', rot: Math.PI / 2, color: '#111' }),

    // e
    txt('NAD+ Increase Over Vehicle', 226, 669, 16, { weight: 'bold' }),
    txt('(Mean ± SEM)', 226, 690, 16),
    txt('% Increase in NAD+', 17.5, 823, 13, { weight: 'bold', rot: Math.PI / 2 }),

    // f
    txt('Increase in ECAR Over Vehicle', 616.7, 669, 15, { weight: 'bold' }),
    txt('(Mean ± SEM)', 616.7, 687.3, 15),
    txt('%Increase in ECAR', 418.3, 818.3, 13, { weight: 'bold', rot: Math.PI / 2 }),

    // g
    txt('Extracellular Lactate Increase Over Vehicle', 227, 1071.7, 16, { weight: 'bold' }),
    txt('(Mean ± SEM)', 226, 1089.3, 16),
    txt('% Increase in Lactate', 21.7, 1246.7, 13.5, { weight: 'bold', rot: Math.PI / 2 }),

    // h
    txt('Effect of CNM-Au8 on ATP Production', 607.5, 1071.7, 16, { weight: 'bold' }),
    txt('(Mean ± SEM)', 607, 1089.3, 16),
    txt('ATP (μM)', 415, 1235, 13.5, { weight: 'bold', rot: Math.PI / 2 }),
  ];

  return {
    animation: false,
    backgroundColor: '#ffffff',
    textStyle: { fontFamily: FONT },
    grid,
    xAxis,
    yAxis,
    legend,
    series,
    graphic: { elements: graphic },
  };
}

export default function App() {
  const ref = useRef<HTMLDivElement>(null);
  useEffect(() => {
    if (!ref.current) return;
    const chart = echarts.init(ref.current, null, { renderer: 'svg' });
    chart.setOption(buildOption() as any);
    return () => chart.dispose();
  }, []);
  return (
    <div
      ref={ref}
      style={{ position: 'absolute', left: 0, top: 0, width: 773, height: 1475, background: '#fff' }}
    />
  );
}
